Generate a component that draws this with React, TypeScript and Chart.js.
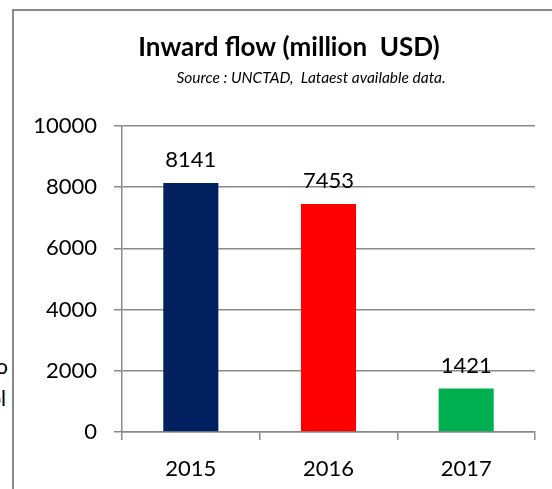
import React, { useEffect, useRef } from "react";
import { Chart, registerables } from "chart.js";

Chart.register(...registerables);

const categories = ["2015", "2016", "2017"];
const inwardFlow = [8141, 7453, 1421];
const barColors = ["#002060", "#FF0000", "#00B050"];
const yTicks = [0, 2000, 4000, 6000, 8000, 10000];
const titleText = "Inward flow (million  USD)";
const subtitleText = "Source : UNCTAD,  Lataest available data.";

const FONT = "Lato, 'Liberation Sans', sans-serif";
const GRID = "#8a8a8a";

const valueLabels = {
  id: "valueLabels",
  afterDatasetsDraw(chart: any) {
    const ctx = chart.ctx;
    const meta = chart.getDatasetMeta(0);
    ctx.save();
    ctx.font = `22px ${FONT}`;
    ctx.fillStyle = "#000";
    ctx.textAlign = "center";
    ctx.textBaseline = "middle";
    meta.data.forEach((bar: any, i: number) => {
      ctx.fillText(String(chart.data.datasets[0].data[i]), bar.x, bar.y - 23);
    });
    ctx.restore();
  },
};

const headerText = {
  id: "headerText",
  afterDraw(chart: any) {
    const ctx = chart.ctx;
    ctx.save();
    ctx.fillStyle = "#000";
    ctx.textAlign = "center";
    ctx.textBaseline = "middle";
    ctx.font = `bold 26px ${FONT}`;
    ctx.fillText(titleText, 275, 37);
    ctx.font = `italic 15.5px ${FONT}`;
    ctx.fillText(subtitleText, 297, 67);
    ctx.restore();
  },
};

function ChartBox() {
  const ref = useRef<HTMLCanvasElement | null>(null);
  useEffect(() => {
    if (!ref.current) return;
    const chart = new Chart(ref.current, {
      type: "bar",
      data: {
        labels: categories,
        datasets: [
          {
            data: inwardFlow,
            backgroundColor: barColors,
            borderWidth: 0,
            barPercentage: 0.4,
            categoryPercentage: 1,
          },
        ],
      },
      options: {
        animation: false,
        responsive: false,
        devicePixelRatio: 1,
        layout: { padding: { left: 0, right: 17, top: 115, bottom: 0 } },
        plugins: {
          legend: { display: false },
          tooltip: { enabled: false },
          title: { display: false },
        },
        scales: {
          x: {
            afterFit: (scale: any) => {
              scale.height = 57;
            },
            grid: {
              display: true,
              drawOnChartArea: false,
              drawTicks: true,
              tickLength: 8,
              color: GRID,
              lineWidth: 1.5,
            },
            border: { display: true, color: GRID, width: 1.5 },
            ticks: {
              color: "#000",
              font: { family: FONT, size: 22 },
              padding: 16,
            },
          },
          y: {
            min: 0,
            max: 10000,
            afterBuildTicks: (scale: any) => {
              scale.ticks = yTicks.map((v) => ({ value: v }));
            },
            afterFit: (scale: any) => {
              scale.width = 108;
            },
            grid: {
              color: GRID,
              lineWidth: 1.5,
              tickLength: 8,
              drawTicks: true,
            },
            border: { display: true, color: GRID, width: 1.5 },
            ticks: {
              color: "#000",
              font: { family: FONT, size: 22 },
              padding: 17,
              callback: (v: any) => String(v),
            },
          },
        },
      },
      plugins: [valueLabels, headerText],
    });
    return () => chart.destroy();
  }, []);
  return (
    <canvas
      ref={ref}
      width={538}
      height={478}
      style={{ position: "absolute", left: 14, top: 11, width: 538, height: 478 }}
    />
  );
}

const fragStyle: React.CSSProperties = {
  position: "absolute",
  fontFamily: FONT,
  fontSize: 21,
  lineHeight: "24px",
  color: "#000",
  whiteSpace: "nowrap",
};

export default function App() {
  return (
    <div
      style={{
        position: "fixed",
        left: 0,
        top: 0,
        width: 552,
        height: 489,
        overflow: "hidden",
        background: "#fff",
      }}
    >
      <div
        style={{
          position: "absolute",
          left: 0,
          top: 340,
          width: 12,
          height: 80,
          overflow: "hidden",
        }}
      >
        <span style={{ ...fragStyle, right: 4, top: 14 }}>o</span>
        <span style={{ ...fragStyle, right: 6, top: 46 }}>ol</span>
      </div>
      <div
        style={{
          position: "absolute",
          left: 12,
          top: 9,
          width: 560,
          height: 500,
          borderTop: "2px solid #8a8a8a",
          borderLeft: "2px solid #8a8a8a",
          boxSizing: "border-box",
        }}
      />
      <ChartBox />
    </div>
  );
}
